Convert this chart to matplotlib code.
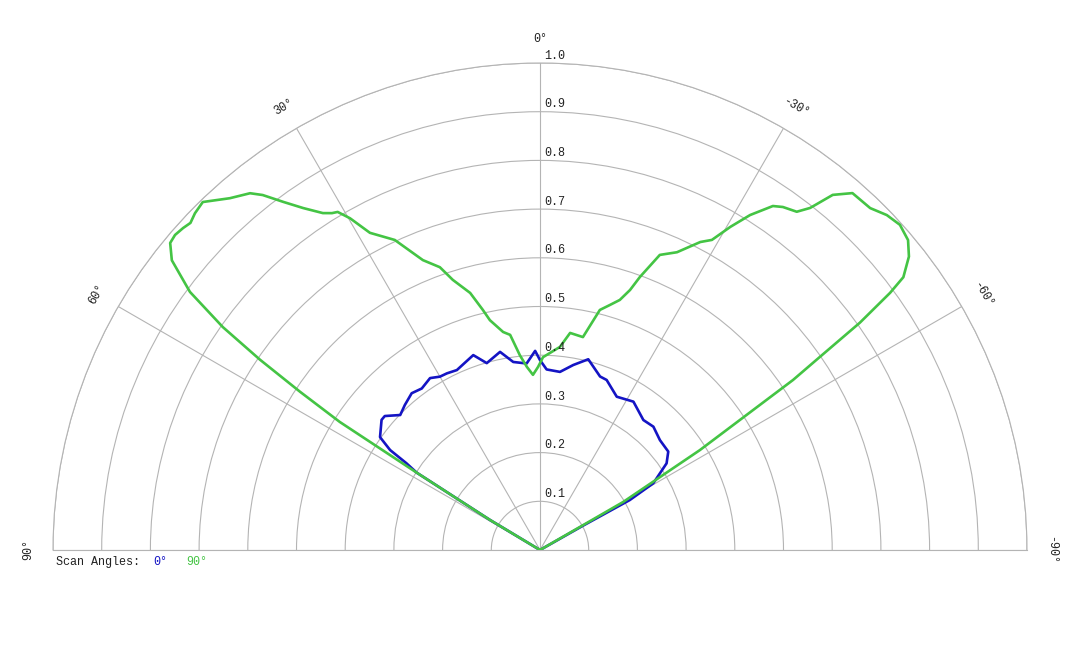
import numpy as np
import matplotlib
matplotlib.use("Agg")
import matplotlib.pyplot as plt

# ---- data (theta in degrees, 0 = up, positive = left) ----
green_theta = [60.0, 59.0, 57.9, 57.4, 56.6, 55.8, 54.9, 53.6, 51.8, 50.3, 49.2, 47.95,
               46.9, 45.7, 44.1, 41.4, 39.1, 38.0, 36.4, 34.7, 32.8, 31.7, 30.9, 29.8,
               28.2, 25.1, 22.0, 19.5, 18.5, 17.9, 15.2, 13.4, 12.3, 9.6, 7.9, 5.9, 4.1,
               2.3, 0.6, -0.9, -5.6, -7.9, -11.4, -14.0, -15.9, -17.7, -19.1, -20.1,
               -22.1, -24.7, -27.5, -29.0, -30.5, -32.1, -34.1, -35.3, -37.2, -38.3,
               -39.5, -41.2, -44.0, -46.0, -47.9, -49.9, -51.5, -53.1, -53.7, -54.6,
               -55.4, -56.1, -58.0, -60.0, -61.0]
green_r = [0.0, 0.12, 0.30, 0.488, 0.59, 0.695, 0.796, 0.893, 0.962, 0.987, 0.99, 0.987,
           0.983, 0.99, 0.995, 0.963, 0.944, 0.925, 0.888, 0.854, 0.823, 0.813, 0.809, 0.785,
           0.739, 0.703, 0.642, 0.616, 0.595, 0.583, 0.547, 0.507, 0.483, 0.454, 0.446, 0.402,
           0.377, 0.36, 0.376, 0.396, 0.419, 0.45, 0.446, 0.508, 0.523, 0.539, 0.565, 0.597,
           0.654, 0.673, 0.713, 0.728, 0.77, 0.812, 0.853, 0.863, 0.872, 0.895,
           0.945, 0.974, 0.976, 0.99, 0.996, 0.988, 0.968, 0.933, 0.892, 0.806,
           0.698, 0.626, 0.387, 0.197, 0.0]

blue_theta = [60.0, 59.0, 57.9, 57.0, 56.3, 54.8, 50.6, 49.2, 46.0, 43.0, 39.3, 36.2,
              32.6, 30.0, 27.8, 24.8, 18.9, 15.9, 11.4, 8.1, 4.1, 1.4, 0.0, -2.1, -6.4,
              -10.2, -14.2, -19.1, -21.4, -26.6, -32.2, -38.5, -42.6, -47.5, -52.5,
              -55.6, -59.5, -60.9, -60.5, -61.0]
blue_r = [0.0, 0.12, 0.299, 0.327, 0.37, 0.402, 0.421, 0.421, 0.399, 0.407, 0.416, 0.411,
          0.419, 0.411, 0.41, 0.407, 0.423, 0.399, 0.415, 0.39, 0.384, 0.409, 0.39, 0.371,
          0.368, 0.386, 0.404, 0.377, 0.375, 0.352, 0.36, 0.341, 0.344, 0.334, 0.332,
          0.315, 0.27, 0.211, 0.10, 0.0]

r_ticks = [0.1, 0.2, 0.3, 0.4, 0.5, 0.6, 0.7, 0.8, 0.9, 1.0]
r_labels = ["0.1", "0.2", "0.3", "0.4", "0.5", "0.6", "0.7", "0.8", "0.9", "1.0"]
theta_ticks = [90, 60, 30, 0, -30, -60, -90]
theta_labels = ["90°", "60°", "30°", "0°", "-30°", "-60°", "-90°"]

legend_title = "Scan Angles:"
series_names = ["0°", "90°"]
series_colors = ["#1414c4", "#44c444"]

MONO = ["Liberation Mono", "DejaVu Sans Mono"]
GRID = "#b4b4b4"

W, H = 1080, 648
fig = plt.figure(figsize=(W / 100, H / 100), dpi=100)
cx, cy, R = 540, 550, 487
# equal-aspect polar axes: use a square box of side 2R centred on the wedge
midy = cy - R / 2.0
ax = fig.add_axes([(cx - R) / W, (H - (midy + R)) / H, 2 * R / W, 2 * R / H],
                  projection="polar")
ax.set_theta_zero_location("N")
ax.set_theta_direction(1)
ax.set_thetamin(-90)
ax.set_thetamax(90)
ax.set_ylim(0, 1.0)

ax.set_rgrids(r_ticks, labels=[""] * len(r_ticks))
ax.set_thetagrids(theta_ticks, labels=[""] * len(theta_ticks))
ax.grid(True, color=GRID, linewidth=0.8)
for sp in ax.spines.values():
    sp.set_color(GRID)
    sp.set_linewidth(0.8)
ax.tick_params(length=0)

ax.plot(np.deg2rad(blue_theta), blue_r, color=series_colors[0], linewidth=1.9, zorder=3)
ax.plot(np.deg2rad(green_theta), green_r, color=series_colors[1], linewidth=1.9, zorder=3)

for r, lab in zip(r_ticks, r_labels):
    ax.annotate(lab, xy=(0, r), xytext=(3, 1), textcoords="offset points",
                ha="left", va="bottom", fontsize=8.5, family=MONO, color="#222222",
                zorder=5, annotation_clip=False)

for t, lab in zip(theta_ticks, theta_labels):
    ax.text(np.deg2rad(t), 1.05, lab, rotation=t, rotation_mode="anchor",
            ha="center", va="center", fontsize=8.5, family=MONO, color="#222222",
            clip_on=False)

fig.text(56 / W, 1 - 562 / H, legend_title, ha="left", va="center", fontsize=8.5,
         family=MONO, color="#222222")
fig.text(153 / W, 1 - 562 / H, series_names[0], ha="left", va="center", fontsize=8.5,
         family=MONO, color=series_colors[0])
fig.text(186 / W, 1 - 562 / H, series_names[1], ha="left", va="center", fontsize=8.5,
         family=MONO, color=series_colors[1])

fig.savefig("out.png", dpi=100, facecolor="white")
